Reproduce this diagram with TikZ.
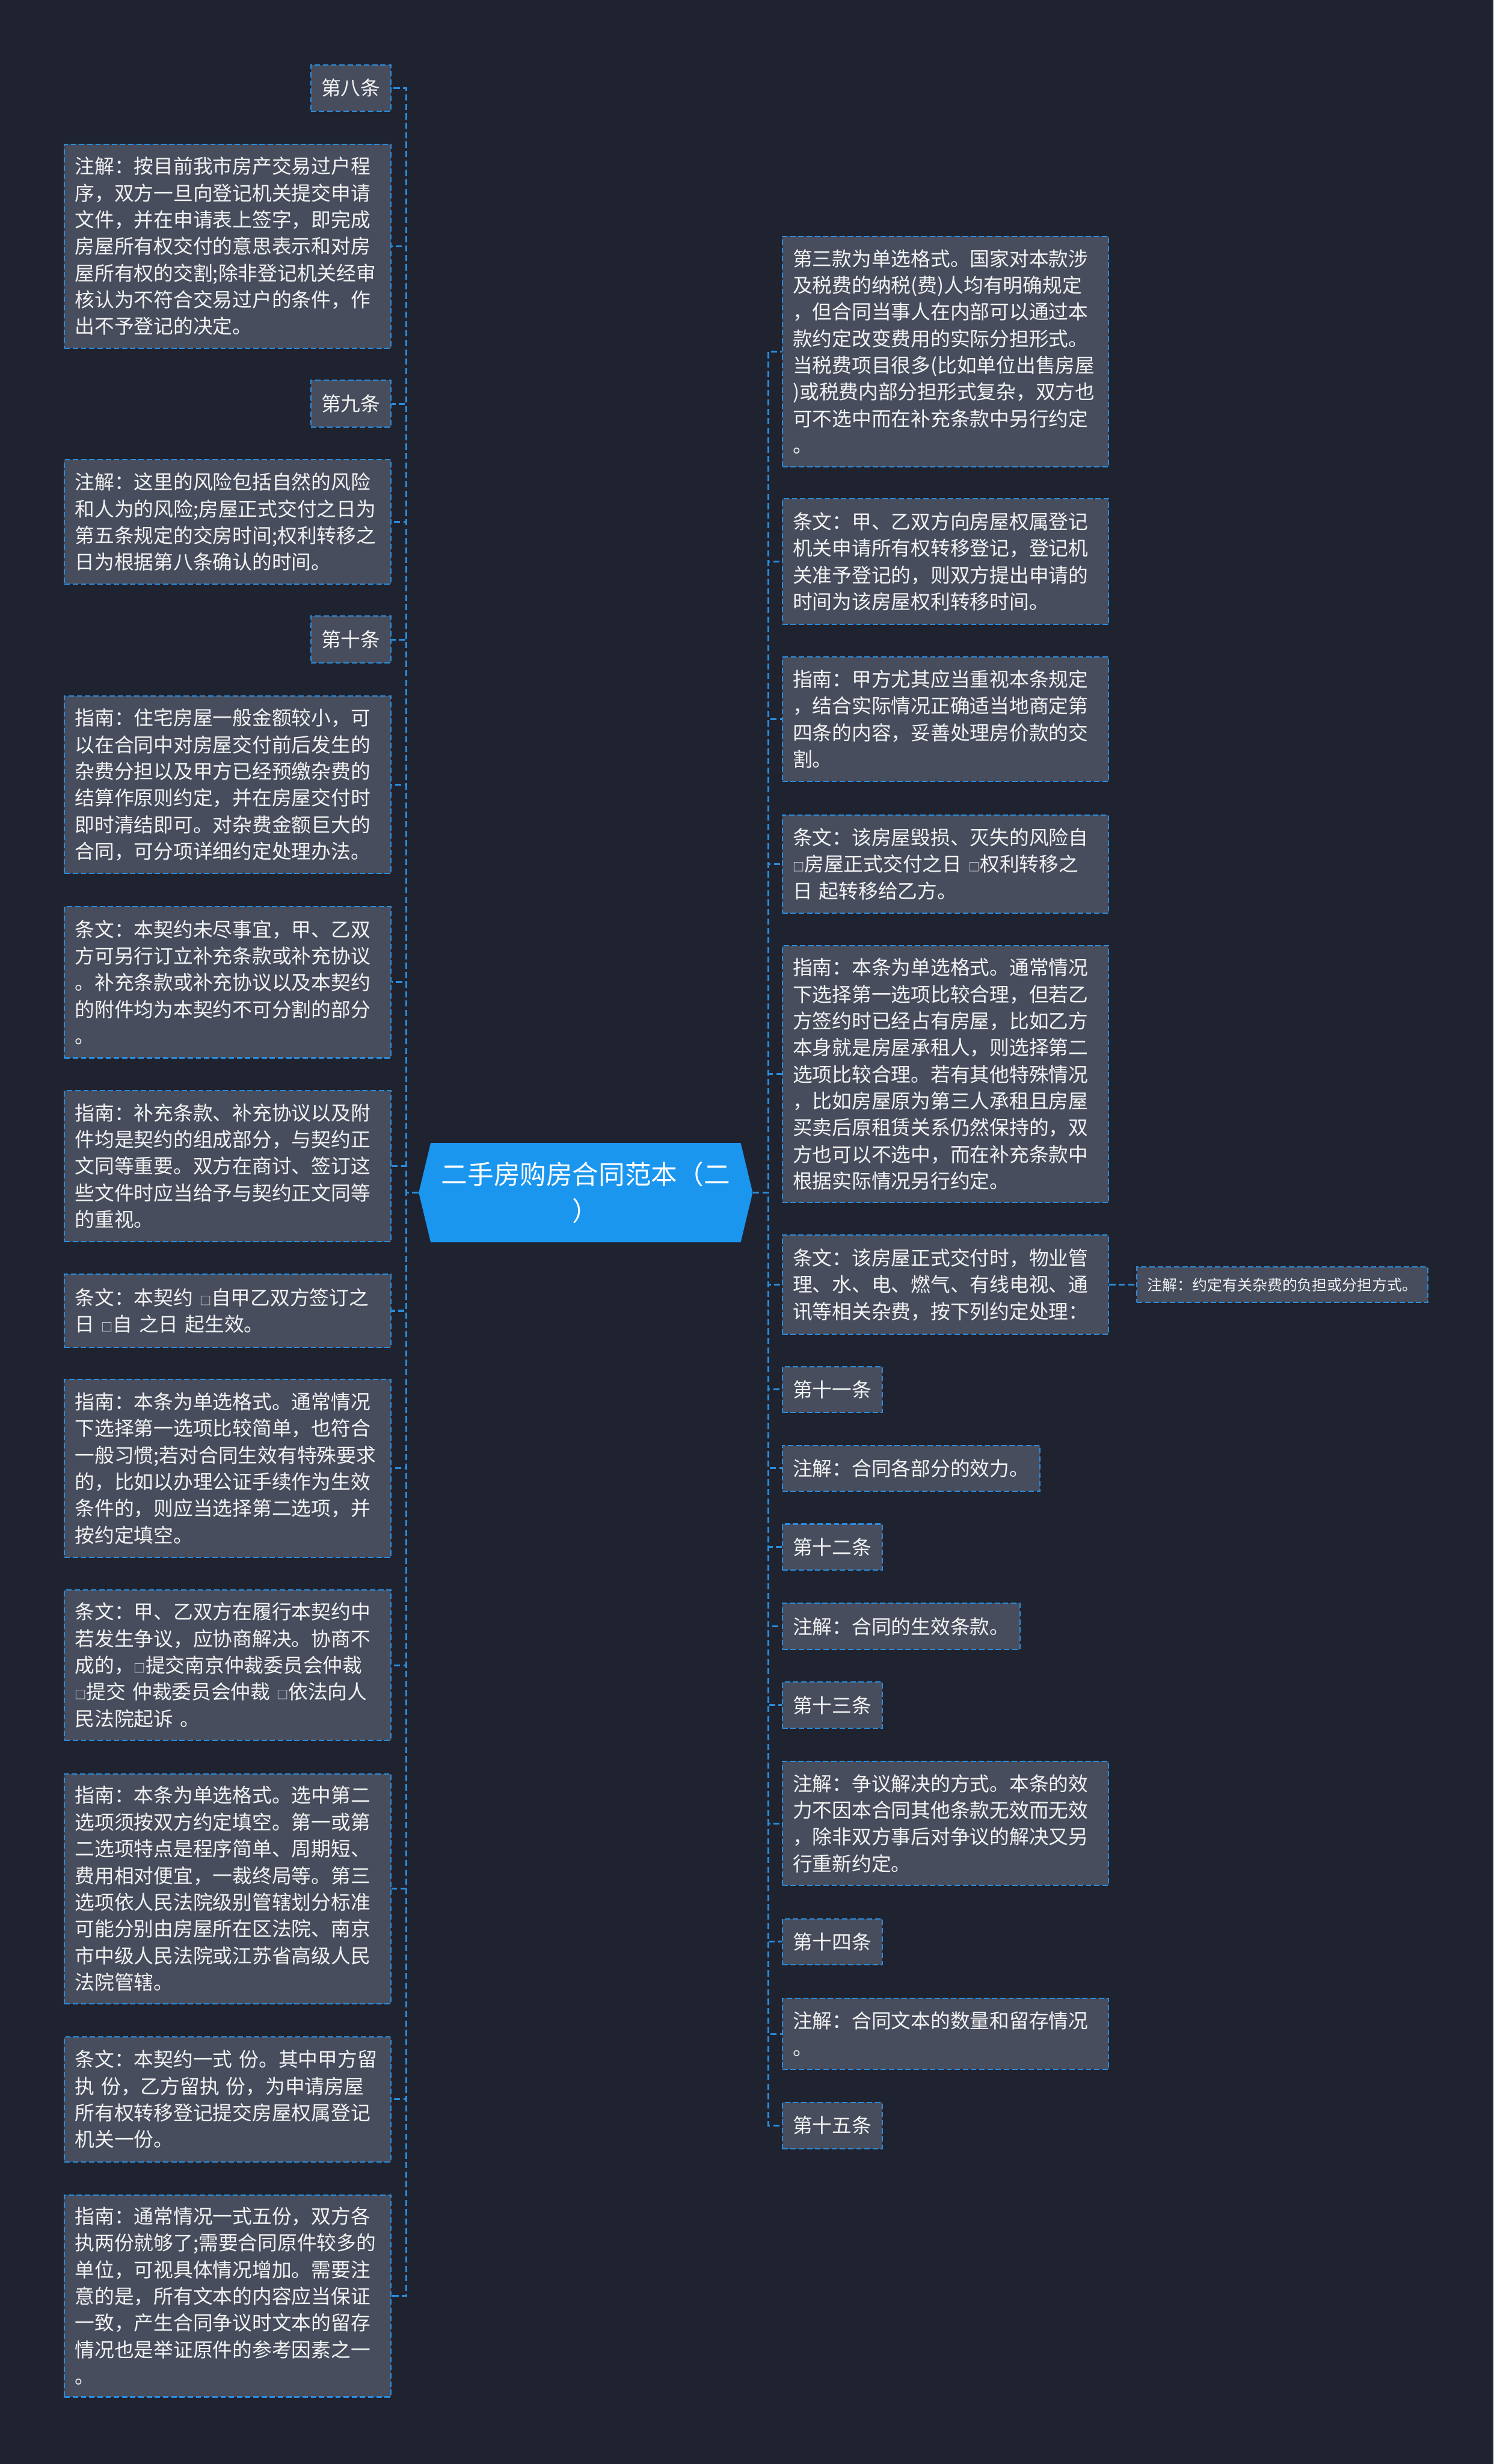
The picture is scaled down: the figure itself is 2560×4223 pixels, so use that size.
\documentclass[tikz,border=0pt]{standalone}
\usepackage{fontspec}
\setmainfont{Noto Sans CJK SC}
\usetikzlibrary{shapes.symbols}
\definecolor{mapbg}{HTML}{1F2330}
\definecolor{boxfill}{HTML}{474D5D}
\definecolor{linkblue}{HTML}{2A8CDC}
\definecolor{rootblue}{HTML}{1A96EF}
\definecolor{inkwhite}{HTML}{F2F2F2}
\newcommand{\optbox}{{\fontsize{5.6pt}{5.6pt}\selectfont □}}
\tikzset{
  leaf/.style={draw=linkblue, line width=0.6pt, dash pattern=on 2.6pt off 1.4pt,
    fill=boxfill, text=inkwhite, font=\fontsize{9.6pt}{13pt}\selectfont,
    align=left, inner xsep=0.18cm, inner ysep=0pt},
  wide/.style={leaf, text width=5.23cm},
  link/.style={draw=linkblue, line width=0.9pt, dash pattern=on 3pt off 1.6pt},
}

\begin{document}
\begin{tikzpicture}[x=0.01cm, y=-0.01cm]
  \fill[mapbg] (0,0) rectangle (2560,4223);
  \node[signal, signal to=west and east, signal pointer angle=153, fill=rootblue,
        text=white, minimum width=5.72cm, minimum height=1.7cm, align=center,
        font=\fontsize{12.8pt}{17.9pt}\selectfont] (root) at (1004,2044)
       {二手房购房合同范本（二\\）};
  \foreach \cy/\hh/\sty/\txt [count=\i] in
    {151/79/leaf/{第八条},
     422/350/wide/{注解：按目前我市房产交易过户程\\序，双方一旦向登记机关提交申请\\文件，并在申请表上签字，即完成\\房屋所有权交付的意思表示和对房\\屋所有权的交割;除非登记机关经审\\核认为不符合交易过户的条件，作\\出不予登记的决定。},
     692/80/leaf/{第九条},
     894.5/213/wide/{注解：这里的风险包括自然的风险\\和人为的风险;房屋正式交付之日为\\第五条规定的交房时间;权利转移之\\日为根据第八条确认的时间。},
     1096/80/leaf/{第十条},
     1345/304/wide/{指南：住宅房屋一般金额较小，可\\以在合同中对房屋交付前后发生的\\杂费分担以及甲方已经预缴杂费的\\结算作原则约定，并在房屋交付时\\即时清结即可。对杂费金额巨大的\\合同，可分项详细约定处理办法。},
     1683.5/259/wide/{条文：本契约未尽事宜，甲、乙双\\方可另行订立补充条款或补充协议\\。补充条款或补充协议以及本契约\\的附件均为本契约不可分割的部分\\。},
     1998.5/259/wide/{指南：补充条款、补充协议以及附\\件均是契约的组成部分，与契约正\\文同等重要。双方在商讨、签订这\\些文件时应当给予与契约正文同等\\的重视。},
     2246.5/125/wide/{条文：本契约~\optbox 自甲乙双方签订之\\日~\optbox 自~之日~起生效。},
     2516.5/305/wide/{指南：本条为单选格式。通常情况\\下选择第一选项比较简单，也符合\\一般习惯;若对合同生效有特殊要求\\的，比如以办理公证手续作为生效\\条件的，则应当选择第二选项，并\\按约定填空。},
     2854/258/wide/{条文：甲、乙双方在履行本契约中\\若发生争议，应协商解决。协商不\\成的，\optbox 提交南京仲裁委员会仲裁\\\optbox 提交~仲裁委员会仲裁~\optbox 依法向人\\民法院起诉~。},
     3237/394/wide/{指南：本条为单选格式。选中第二\\选项须按双方约定填空。第一或第\\二选项特点是程序简单、周期短、\\费用相对便宜，一裁终局等。第三\\选项依人民法院级别管辖划分标准\\可能分别由房屋所在区法院、南京\\市中级人民法院或江苏省高级人民\\法院管辖。},
     3598/214/wide/{条文：本契约一式~份。其中甲方留\\执~份，乙方留执~份，为申请房屋\\所有权转移登记提交房屋权属登记\\机关一份。},
     3935/346/wide/{指南：通常情况一式五份，双方各\\执两份就够了;需要合同原件较多的\\单位，可视具体情况增加。需要注\\意的是，所有文本的内容应当保证\\一致，产生合同争议时文本的留存\\情况也是举证原件的参考因素之一\\。}}{%
    \node[\sty, anchor=east, minimum height=\hh*0.01cm] (L\i) at (671,\cy) {\txt};
    \draw[link] (root.west) -- ++(-21,0) |- (L\i.east);}
  \foreach \cy/\hh/\sty/\txt [count=\i] in
    {602.5/395/wide/{第三款为单选格式。国家对本款涉\\及税费的纳税(费)人均有明确规定\\，但合同当事人在内部可以通过本\\款约定改变费用的实际分担形式。\\当税费项目很多(比如单位出售房屋\\)或税费内部分担形式复杂，双方也\\可不选中而在补充条款中另行约定\\。},
     962.5/215/wide/{条文：甲、乙双方向房屋权属登记\\机关申请所有权转移登记，登记机\\关准予登记的，则双方提出申请的\\时间为该房屋权利转移时间。},
     1232.5/213/wide/{指南：甲方尤其应当重视本条规定\\，结合实际情况正确适当地商定第\\四条的内容，妥善处理房价款的交\\割。},
     1481/168/wide/{条文：该房屋毁损、灭失的风险自\\\optbox 房屋正式交付之日~\optbox 权利转移之\\日~起转移给乙方。},
     1841/440/wide/{指南：本条为单选格式。通常情况\\下选择第一选项比较合理，但若乙\\方签约时已经占有房屋，比如乙方\\本身就是房屋承租人，则选择第二\\选项比较合理。若有其他特殊情况\\，比如房屋原为第三人承租且房屋\\买卖后原租赁关系仍然保持的，双\\方也可以不选中，而在补充条款中\\根据实际情况另行约定。},
     2202/170/wide/{条文：该房屋正式交付时，物业管\\理、水、电、燃气、有线电视、通\\讯等相关杂费，按下列约定处理：},
     2381.5/79/leaf/{第十一条},
     2516.5/79/leaf/{注解：合同各部分的效力。},
     2651.5/79/leaf/{第十二条},
     2787.5/79/leaf/{注解：合同的生效条款。},
     2922.5/79/leaf/{第十三条},
     3125/212/wide/{注解：争议解决的方式。本条的效\\力不因本合同其他条款无效而无效\\，除非双方事后对争议的解决又另\\行重新约定。},
     3328/79/leaf/{第十四条},
     3486/122/wide/{注解：合同文本的数量和留存情况\\。},
     3643/79/leaf/{第十五条}}{%
    \node[\sty, anchor=west, minimum height=\hh*0.01cm] (R\i) at (1340,\cy) {\txt};
    \draw[link] (root.east) -- ++(26,0) |- (R\i.west);}
  \node[leaf, anchor=west, minimum height=0.61cm,
        font=\fontsize{7.3pt}{10pt}\selectfont] (note) at (1948,2202)
       {注解：约定有关杂费的负担或分担方式。};
  \draw[link] (R6.east) -- (note.west);
\end{tikzpicture}
\end{document}
